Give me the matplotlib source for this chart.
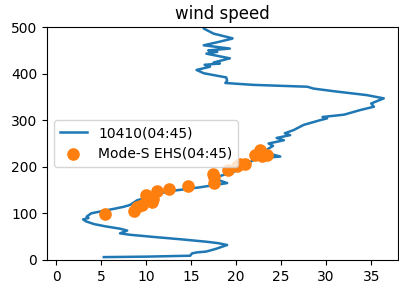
import matplotlib
matplotlib.use("Agg")
import matplotlib.pyplot as plt

# radiosonde profile 10410 (speed m/s, height)
sonde_speed = [5.3, 10.0, 14.9, 15.1, 15.6, 16.7, 17.8, 19.0, 18.0, 16.7, 14.0, 11.0, 8.2, 7.1, 7.9, 7.1,
               5.5, 4.2, 3.3, 3.0, 3.6, 3.4, 3.9, 4.9, 6.5, 7.5, 8.2, 9.0, 10.4, 11.5, 12.3, 14.0, 16.0, 18.0, 19.0,
               17.5, 18.5, 19.7, 20.8, 21.5, 22.3, 24.9, 23.0, 24.1, 23.6, 25.3, 24.5, 26.0, 25.4, 26.4, 27.5, 29.3, 30.1,
               29.6, 32.0, 33.8, 35.3, 35.0, 36.4, 34.5, 31.0, 28.6, 27.9, 24.9, 21.9, 18.8, 19.0, 18.9,
               17.5, 16.4, 15.6, 17.1, 16.5, 18.2, 17.5, 19.3, 16.7, 17.9, 16.9, 19.3, 16.4, 18.0, 19.5, 19.6,
               17.5, 16.4, 16.4]
sonde_height = [6, 7, 9, 14, 16, 18, 24, 32, 36, 39, 44, 49, 54, 57, 63, 67,
                72, 77, 83, 87, 90, 93, 100, 104, 110, 114, 118, 128, 136, 142, 147, 151, 156, 162, 165,
                175, 182, 189, 200, 210, 218, 222, 232, 245, 250, 257, 262, 268, 272, 279, 290, 300, 304,
                307, 312, 322, 329, 336, 347, 354, 362, 368, 372, 374, 376, 380, 385, 392,
                397, 401, 408, 415, 419, 422, 424, 433, 443, 447, 450, 454, 461, 468, 475, 476,
                486, 497, 500]

# Mode-S EHS observations
ehs_speed = [5.4, 8.6, 9.0, 9.5, 10.0, 10.6, 10.8, 11.2, 12.5, 14.7, 17.5, 17.4, 17.5,
             19.1, 20.1, 20.4, 21.0, 22.1, 22.7, 23.4, 22.9]
ehs_height = [98, 105, 114, 118, 139, 125, 131, 147, 152, 159, 179, 184, 165,
              193, 202, 207, 206, 225, 236, 225, 223]

fig = plt.figure(figsize=(3.99, 2.95), dpi=100)
ax = fig.add_axes([0.118, 0.119, 0.88, 0.789])
ax.plot(sonde_speed, sonde_height, color="tab:blue", lw=1.8, label="10410(04:45)")
ax.scatter(ehs_speed, ehs_height, color="tab:orange", s=65, zorder=3, label="Mode-S EHS(04:45)")
ax.set_xlim(-1, 38)
ax.set_ylim(0, 500)
ax.set_xticks([0, 5, 10, 15, 20, 25, 30, 35])
ax.set_yticks([0, 100, 200, 300, 400, 500])
ax.set_title("wind speed")
ax.legend(loc="center left")
fig.savefig("out.png", dpi=100)
